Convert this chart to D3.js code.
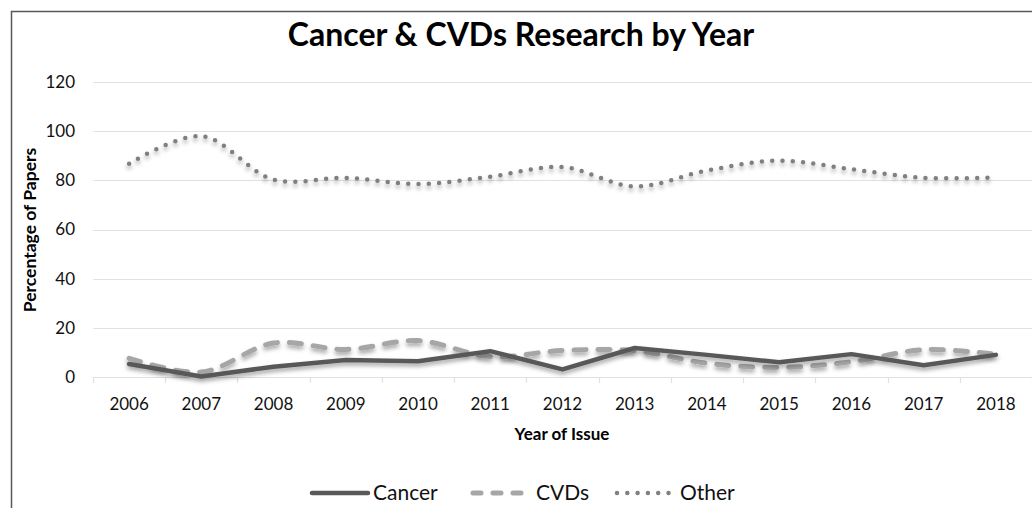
<!DOCTYPE html>
<html><head><meta charset="utf-8">
<script src="https://cdn.jsdelivr.net/npm/d3@7"></script>
<style>body{margin:0;background:#fff}svg{display:block}text{font-family:Lato,"Open Sans",sans-serif}</style>
</head><body><svg id="c" width="1032" height="508"></svg>
<script>
const years = ["2006","2007","2008","2009","2010","2011","2012","2013","2014","2015","2016","2017","2018"];
const cancer = [5.3,0.2,4.2,6.9,6.4,10.5,3.1,11.8,9,6,9.3,4.8,9];
const cvds = [7.6,2.0,13.8,11.2,14.8,8.3,10.8,10.7,5.6,3.9,6.2,11.1,9.2];
const other = [86.7,98,80.3,81,78.5,81.5,85.4,77.5,84,88,84.5,81,81.2];
const yTicks = [0,20,40,60,80,100,120];
const seriesNames = ["Cancer","CVDs","Other"];

const svg = d3.select("#c");
const defs = svg.append("defs");
const f = defs.append("filter").attr("id","sh").attr("x","-5%").attr("y","-50%").attr("width","110%").attr("height","200%");
f.append("feDropShadow").attr("dx",0).attr("dy",3).attr("stdDeviation",2).attr("flood-color","#000").attr("flood-opacity",0.35);

// border
svg.append("path").attr("d","M11.5,508 L11.5,11.5 L1032,11.5").attr("fill","none").attr("stroke","#595959").attr("stroke-width",1.5);

const x = d3.scaleBand().domain(years).range([93,1032]);
const y = d3.scaleLinear().domain([0,120]).range([377,82]);

// gridlines
svg.append("g").selectAll("line").data(yTicks).join("line")
  .attr("x1",93).attr("x2",1032).attr("y1",d=>Math.round(y(d))+0.5).attr("y2",d=>Math.round(y(d))+0.5)
  .attr("stroke","#dde2e8").attr("stroke-width",1.2);

// x tick marks
const bounds = years.map(d=>x(d)).concat([x.range()[1]]);
svg.append("g").selectAll("line").data(bounds).join("line")
  .attr("x1",d=>Math.round(d)+0.5).attr("x2",d=>Math.round(d)+0.5).attr("y1",377).attr("y2",383)
  .attr("stroke","#dde2e8").attr("stroke-width",1.2);

// y labels
svg.append("g").selectAll("text").data(yTicks).join("text")
  .attr("x",75).attr("y",d=>y(d)).attr("dy","0.35em").attr("text-anchor","end")
  .attr("font-size",17).attr("fill","#111").text(d=>d);

// x labels
svg.append("g").selectAll("text").data(years).join("text")
  .attr("x",d=>x(d)+x.bandwidth()/2).attr("y",410).attr("text-anchor","middle")
  .attr("font-size",17).attr("fill","#111").text(d=>d);

// titles
svg.append("text").attr("x",521).attr("y",46).attr("text-anchor","middle").attr("font-size",32).attr("font-weight","bold").attr("fill","#000").text("Cancer & CVDs Research by Year");
svg.append("text").attr("x",562).attr("y",440).attr("text-anchor","middle").attr("font-size",17).attr("font-weight","bold").attr("fill","#000").text("Year of Issue");
svg.append("text").attr("transform","translate(36,230) rotate(-90)").attr("text-anchor","middle").attr("font-size",17.5).attr("font-weight","bold").attr("fill","#000").text("Percentage of Papers");

const cx = (d,i)=>x(years[i])+x.bandwidth()/2;
const styles = {
  Cancer:{stroke:"#595959",w:4.5,dash:null,curve:d3.curveLinear,cap:"round"},
  CVDs:{stroke:"#a6a6a6",w:5,dash:"12 12",curve:d3.curveCatmullRom.alpha(0.5),cap:"round"},
  Other:{stroke:"#808080",w:4.5,dash:"0 10.3",curve:d3.curveCatmullRom.alpha(0.5),cap:"round"}
};
const data = {Cancer:cancer,CVDs:cvds,Other:other};
const order = ["Other","CVDs","Cancer"];
order.forEach(name=>{
  const s = styles[name];
  const line = d3.line().x(cx).y(d=>y(d)).curve(s.curve);
  svg.append("path").datum(data[name]).attr("d",line).attr("fill","none")
    .attr("stroke",s.stroke).attr("stroke-width",s.w).attr("stroke-linecap",s.cap).attr("stroke-linejoin","round")
    .attr("stroke-dasharray",s.dash).attr("filter","url(#sh)");
});

// legend
const legX = {Cancer:[312,368,373],CVDs:[473,530,536],Other:[617,673,680]};
seriesNames.forEach(name=>{
  const s = styles[name], p = legX[name];
  svg.append("line").attr("x1",p[0]).attr("x2",p[1]).attr("y1",493).attr("y2",493)
    .attr("stroke",s.stroke).attr("stroke-width",s.w).attr("stroke-linecap",s.cap)
    .attr("stroke-dasharray",name==="CVDs"?"8 12":s.dash);
  svg.append("text").attr("x",p[2]).attr("y",500).attr("font-size",21).attr("fill","#111").text(name);
});
</script></body></html>
